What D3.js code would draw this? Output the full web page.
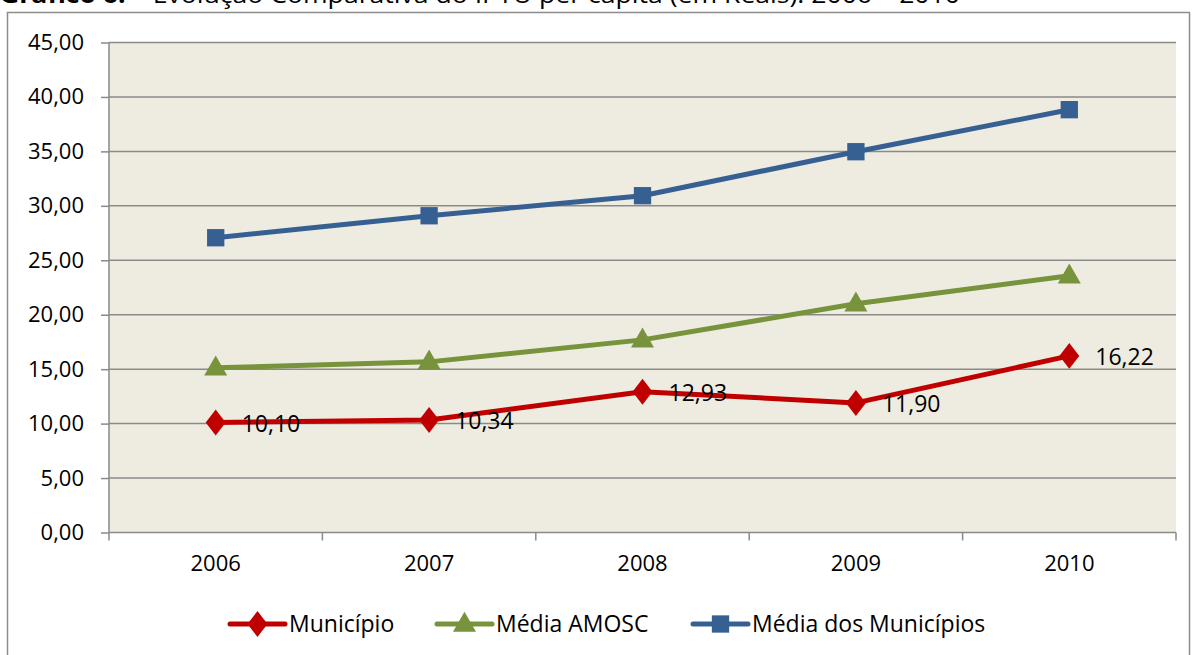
<!DOCTYPE html>
<html><head><meta charset="utf-8">
<script src="https://cdn.jsdelivr.net/npm/d3@7"></script>
<style>body{margin:0;background:#fff}svg{display:block}</style>
</head><body>
<svg id="c" width="1192" height="655"></svg>
<script>
const years = ["2006","2007","2008","2009","2010"];
const municipio = [10.10, 10.34, 12.93, 11.90, 16.22];
const mediaAmosc = [15.12, 15.67, 17.69, 21.00, 23.57];
const mediaMunicipios = [27.07, 29.09, 30.93, 34.97, 38.83];
const yTicks = [0,5,10,15,20,25,30,35,40,45];
const seriesNames = ["Município","Média AMOSC","Média dos Municípios"];
const titleBold = "Gráfico 6:";
const titleRest = " – Evolução Comparativa do IPTU per capita (em Reais): 2006 – 2010";

const svg = d3.select("#c");
const font = "'Open Sans', Lato, sans-serif";
const L = 109, R = 1176, T = 42.5, B = 532.5;

// title (cut off at top, as in the reference)
const tt = svg.append("text").attr("x", 0).attr("y", 3).attr("font-family", font)
  .attr("font-size", 23).attr("fill", "#000").attr("textLength", 960).attr("lengthAdjust", "spacingAndGlyphs");
tt.append("tspan").attr("font-weight", "bold").text(titleBold);
tt.append("tspan").text(titleRest);

// outer border
svg.append("rect").attr("x", 7.5).attr("y", 12.5).attr("width", 1182).attr("height", 660)
  .attr("fill", "#fff").attr("stroke", "#8c8c8c").attr("stroke-width", 1.5);

const x = d3.scaleBand().domain(years).range([L, R]);
const y = d3.scaleLinear().domain([0, 45]).range([B, T]);

svg.append("rect").attr("x", L).attr("y", T).attr("width", R - L).attr("height", B - T).attr("fill", "#EEECE1");

// grid
svg.append("g").selectAll("line").data(yTicks.filter(d => d > 0)).join("line")
  .attr("x1", L).attr("x2", R).attr("y1", d => y(d)).attr("y2", d => y(d))
  .attr("stroke", "#8a8a8a").attr("stroke-width", 1.5);

// y axis
const ya = svg.append("g").attr("transform", `translate(${L},0)`)
  .call(d3.axisLeft(y).tickValues(yTicks).tickSize(8).tickPadding(17)
    .tickFormat(d => d3.format(".2f")(d).replace(".", ",")));
ya.select(".domain").attr("stroke", "#8a8a8a").attr("stroke-width", 1.5).attr("d", `M0,${T}V${B}`);
ya.selectAll(".tick line").attr("stroke", "#8a8a8a").attr("stroke-width", 1.5);
ya.selectAll("text").attr("font-family", font).attr("font-size", 22).attr("fill", "#000");

// x axis
const xa = svg.append("g").attr("transform", `translate(0,${B})`)
  .call(d3.axisBottom(x).tickSize(0).tickPadding(23));
xa.select(".domain").attr("stroke", "#8a8a8a").attr("stroke-width", 1.5).attr("d", `M${L},0H${R}`);
xa.selectAll("text").attr("font-family", font).attr("font-size", 22).attr("fill", "#000");
const bounds = years.map(d => x(d)).concat([R]);
svg.append("g").selectAll("line").data(bounds).join("line")
  .attr("x1", d => d).attr("x2", d => d).attr("y1", B).attr("y2", B + 8)
  .attr("stroke", "#8a8a8a").attr("stroke-width", 1.5);

const cx = d => x(d) + x.bandwidth() / 2;
const series = [
  {name: seriesNames[0], values: municipio, color: "#C00000", sym: d3.symbolDiamond, size: 240},
  {name: seriesNames[1], values: mediaAmosc, color: "#77933C", sym: d3.symbolTriangle, size: 230},
  {name: seriesNames[2], values: mediaMunicipios, color: "#376092", sym: d3.symbolSquare, size: 300}
];
const line = d3.line().x((d, i) => cx(years[i])).y(d => y(d));
[2, 1, 0].forEach(k => {
  const s = series[k];
  svg.append("path").attr("d", line(s.values)).attr("fill", "none")
    .attr("stroke", s.color).attr("stroke-width", 5).attr("stroke-linejoin", "round");
  svg.append("g").selectAll("path").data(s.values).join("path")
    .attr("transform", (d, i) => `translate(${cx(years[i])},${y(d) + (k === 1 ? 1 : 0)})${k === 0 ? " scale(1.2,0.9)" : ""}`)
    .attr("d", d3.symbol().type(s.sym).size(s.size)).attr("fill", s.color);
});

// data labels for Município
svg.append("g").selectAll("text").data(municipio).join("text")
  .attr("x", (d, i) => cx(years[i]) + 26).attr("y", d => y(d) + 9)
  .attr("font-family", font).attr("font-size", 23).attr("fill", "#000")
  .text(d => d3.format(".2f")(d).replace(".", ","));

// legend
const legX = [230, 437, 693];
const legY = 624;
series.forEach((s, k) => {
  const g = svg.append("g").attr("transform", `translate(${legX[k]},${legY})`);
  g.append("line").attr("x1", 0).attr("x2", 55).attr("y1", 0).attr("y2", 0)
    .attr("stroke", s.color).attr("stroke-width", 5).attr("stroke-linecap", "round");
  g.append("path").attr("transform", `translate(27.5,${k === 1 ? 1 : 0})${k === 0 ? " scale(1.2,0.9)" : ""}`)
    .attr("d", d3.symbol().type(s.sym).size(s.size)).attr("fill", s.color);
  g.append("text").attr("x", 59).attr("y", 8).attr("font-family", font)
    .attr("font-size", 23).attr("fill", "#000").text(s.name);
});
</script>
</body></html>
